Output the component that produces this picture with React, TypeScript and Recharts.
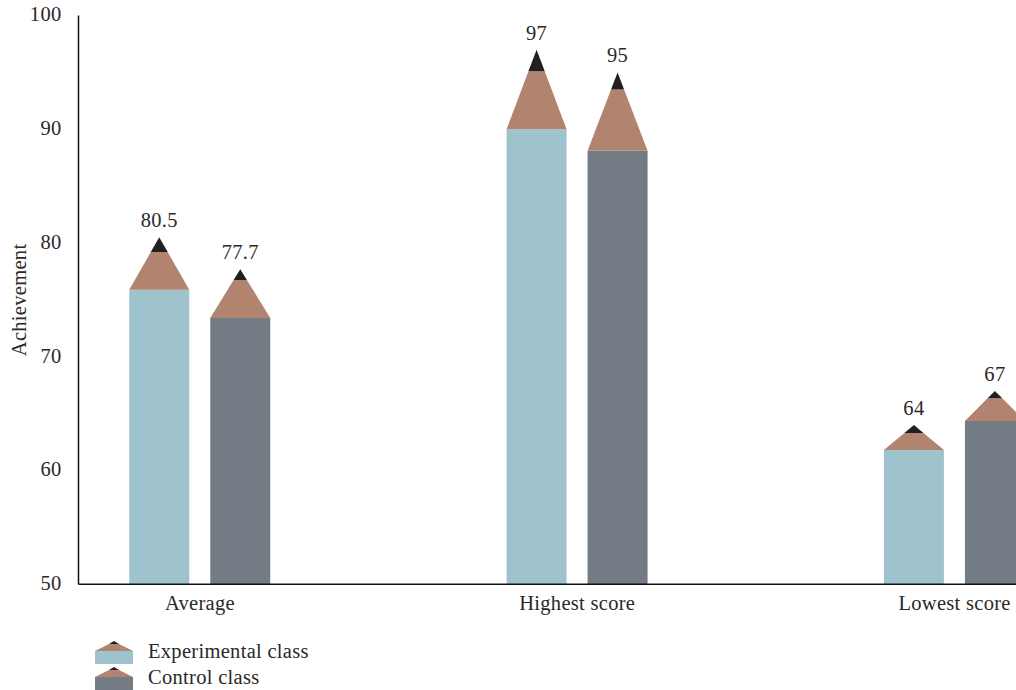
import { BarChart, Bar, XAxis, YAxis, LabelList } from "recharts";

const categories = ["Average", "Highest score", "Lowest score"];
const yTicks = [50, 60, 70, 80, 90, 100];

// each pencil is three stacked parts: barrel, sharpened wood, lead point
const experimentalBarrel = [75.9, 90, 61.8];
const experimentalWoodTop = [79.2, 95.1, 63.3];
const experimentalPoint = [80.5, 97, 64];

const controlBarrel = [73.4, 88.1, 64.35];
const controlWoodTop = [76.75, 93.5, 66.35];
const controlPoint = [77.7, 95, 67];

const BLUE = "#9fc3cd";
const GREY = "#737b85";
const WOOD = "#b28470";
const LEAD = "#231f20";
const TEXT = "#2b2829";
const FONT = "'Liberation Serif', serif";
const FONT_SIZE = 20.5;

const rows = categories.map((name, i) => ({
  name,
  expBarrel: experimentalBarrel[i],
  expWood: experimentalWoodTop[i] - experimentalBarrel[i],
  expLead: experimentalPoint[i] - experimentalWoodTop[i],
  expTop: experimentalPoint[i],
  ctlBarrel: controlBarrel[i],
  ctlWood: controlWoodTop[i] - controlBarrel[i],
  ctlLead: controlPoint[i] - controlWoodTop[i],
  ctlTop: controlPoint[i],
}));

function WoodShape({ x, y, width, height, payload, fill, woodKey, leadKey }: any) {
  const wood = payload[woodKey];
  const lead = payload[leadKey];
  const topWidth = (width * lead) / (wood + lead);
  const inset = (width - topWidth) / 2;
  return (
    <polygon
      points={`${x},${y + height} ${x + inset},${y} ${x + width - inset},${y} ${x + width},${y + height}`}
      fill={fill}
    />
  );
}

function LeadShape({ x, y, width, height, payload, fill, woodKey, leadKey }: any) {
  const wood = payload[woodKey];
  const lead = payload[leadKey];
  const baseWidth = (width * lead) / (wood + lead);
  const mid = x + width / 2;
  return (
    <polygon
      points={`${mid - baseWidth / 2},${y + height} ${mid},${y} ${mid + baseWidth / 2},${y + height}`}
      fill={fill}
    />
  );
}

function LegendRow({ label, color, top }: { label: string; color: string; top: number }) {
  return (
    <div style={{ position: "absolute", left: 95, top, height: 24 }}>
      <svg width={38} height={24} style={{ position: "absolute", left: 0, top: 0 }}>
        <rect x={0} y={10} width={38} height={13} fill={color} />
        <polygon points="0,10 14,3 24,3 38,10" fill={WOOD} />
        <polygon points="14,3 19,0 24,3" fill={LEAD} />
      </svg>
      <span
        style={{
          position: "absolute",
          left: 53,
          top: 0,
          lineHeight: "21px",
          fontSize: FONT_SIZE,
          color: TEXT,
          whiteSpace: "nowrap",
        }}
      >
        {label}
      </span>
    </div>
  );
}

export default function App() {
  const tick = { fontSize: FONT_SIZE, fill: TEXT, fontFamily: FONT };
  return (
    <div
      style={{
        position: "absolute",
        left: 0,
        top: 0,
        width: 1016,
        height: 690,
        overflow: "hidden",
        background: "#fff",
        fontFamily: FONT,
        letterSpacing: 0.3,
      }}
    >
      <BarChart
        width={1160}
        height={690}
        data={rows}
        margin={{ top: 15.5, right: 16.75, bottom: 75.7, left: 0 }}
        barSize={60}
        barGap={21}
      >
        <XAxis
          dataKey="name"
          height={30}
          interval={0}
          padding={{ left: -67.25, right: 0 }}
          tick={tick}
          tickLine={false}
          tickMargin={5}
          axisLine={{ stroke: "#111", strokeWidth: 1.5 }}
        />
        <YAxis
          width={78.5}
          domain={[50, 100]}
          allowDataOverflow
          ticks={yTicks}
          interval={0}
          tick={{ ...tick, dy: -1.5 }}
          tickLine={false}
          tickMargin={11}
          axisLine={{ stroke: "#111", strokeWidth: 1.5 }}
          label={{
            value: "Achievement",
            angle: -90,
            position: "insideLeft",
            offset: 19,
            style: { textAnchor: "middle", fontSize: FONT_SIZE, fill: TEXT, fontFamily: FONT },
          }}
        />

        <Bar dataKey="expBarrel" stackId="experimental" fill={BLUE} isAnimationActive={false} />
        <Bar
          dataKey="expWood"
          stackId="experimental"
          fill={WOOD}
          isAnimationActive={false}
          shape={(p: any) => <WoodShape {...p} woodKey="expWood" leadKey="expLead" />}
        />
        <Bar
          dataKey="expLead"
          stackId="experimental"
          fill={LEAD}
          isAnimationActive={false}
          shape={(p: any) => <LeadShape {...p} woodKey="expWood" leadKey="expLead" />}
        >
          <LabelList dataKey="expTop" position="top" offset={10} fill={TEXT} fontSize={FONT_SIZE} fontFamily={FONT} />
        </Bar>

        <Bar dataKey="ctlBarrel" stackId="control" fill={GREY} isAnimationActive={false} />
        <Bar
          dataKey="ctlWood"
          stackId="control"
          fill={WOOD}
          isAnimationActive={false}
          shape={(p: any) => <WoodShape {...p} woodKey="ctlWood" leadKey="ctlLead" />}
        />
        <Bar
          dataKey="ctlLead"
          stackId="control"
          fill={LEAD}
          isAnimationActive={false}
          shape={(p: any) => <LeadShape {...p} woodKey="ctlWood" leadKey="ctlLead" />}
        >
          <LabelList dataKey="ctlTop" position="top" offset={10} fill={TEXT} fontSize={FONT_SIZE} fontFamily={FONT} />
        </Bar>
      </BarChart>

      <LegendRow label="Experimental class" color={BLUE} top={641} />
      <LegendRow label="Control class" color={GREY} top={667} />
    </div>
  );
}
